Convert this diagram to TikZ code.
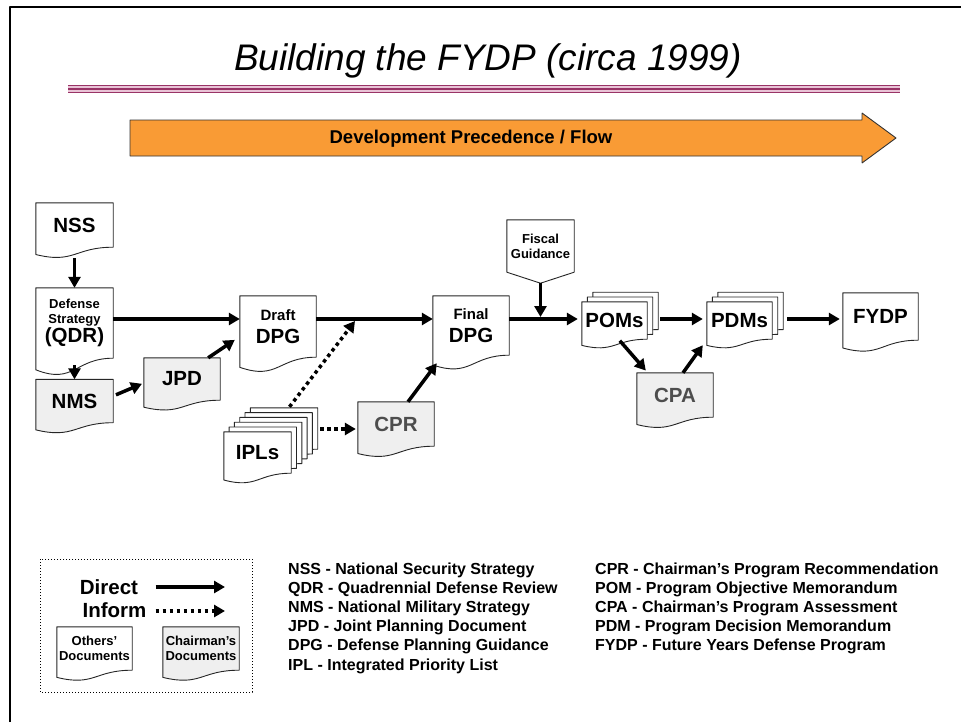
\documentclass[tikz,border=0pt]{standalone}
\usepackage{fontspec}
\setmainfont{Liberation Sans}
\usetikzlibrary{arrows.meta,calc}
\pgfdeclarelayer{background}
\pgfsetlayers{background,main}
\definecolor{flowfill}{HTML}{F99B35}
\definecolor{rulemag}{HTML}{993366}
\definecolor{rulepink}{HTML}{E9C3D6}
\definecolor{chairfill}{HTML}{EFEFEF}
\definecolor{chairtext}{HTML}{4D4D4D}
\newcommand{\doctext}{\fontsize{20.5}{23}\selectfont\bfseries}
\newcommand{\docmid}{\fontsize{15}{17}\selectfont\bfseries}
\newcommand{\docsmall}{\fontsize{13}{15}\selectfont\bfseries}
\newcommand{\legtext}{\fontsize{16}{18}\selectfont\bfseries}
\tikzset{
  doc/.style={rectangle,inner sep=0pt,align=center,font=\doctext},
  chair/.style={doc,text=chairtext},
  docdx/.store in=\docdx, docdy/.store in=\docdy, docdx=0pt, docdy=0pt,
  docpath/.style={insert path={let \p1=($(#1.north west)+(\docdx,\docdy)$),\p2=($(#1.south east)+(\docdx,\docdy)$),\n1={\y1-\y2} in
    (\x1,\y1) -- (\x2,\y1) -- (\x2,\y2) .. controls ({(\x1+\x2)/2},\y2) and ({(\x1+\x2)/2},{\y2-0.38*\n1}) .. (\x1,{\y2-0.165*\n1}) -- cycle}},
  docline/.style={draw=black!85,line width=0.9pt,fill=white,line join=round},
  direct/.style={line width=3.5pt,-{Triangle[length=11pt,width=12pt]}},
  inform/.style={line width=3.5pt,dash pattern=on 3.5pt off 3.5pt,-{Triangle[length=11pt,width=12pt]}},
}
\begin{document}
\begin{tikzpicture}[x=1pt,y=-1pt,line join=bevel]
\useasboundingbox (0,0) rectangle (961,725);
%% frame, title, flow bar
\draw[line width=2pt] (10,722) -- (10,7) -- (961,7);
\node (title) at (488,61) {\fontsize{37}{40}\selectfont\itshape Building the FYDP (circa 1999)};
\fill[rulepink] (68,85) rectangle (900,93);
\foreach \y in {85.6,89,92.4}
  \draw[rulemag,line width=1.2pt] (68,\y) -- (900,\y);
\draw[fill=flowfill,draw=black!80,line width=0.9pt] (130,120) -- (862,120) -- (862,113) -- (896,138) -- (862,163) -- (862,156) -- (130,156) -- cycle;
\node (flowtext) at (471,139) {\fontsize{18.5}{20}\selectfont\bfseries Development Precedence / Flow};
%% documents
\node (nss) at (74.5,225) [doc,minimum width=77pt,minimum height=44pt] {NSS};
\node (qdr) at (74.5,323) [doc,font=\docsmall,minimum width=77pt,minimum height=70pt] {Defense\\Strategy\\[1pt]{\doctext (QDR)}};
\node (nms) at (74.5,401) [chair,text=black,minimum width=77pt,minimum height=43pt] {NMS};
\node (jpd) at (182,379) [doc,minimum width=76pt,minimum height=42pt] {JPD};
\node (draftdpg) at (278,326.5) [doc,minimum width=76pt,minimum height=61pt] {{\docmid Draft}\\DPG};
\node (finaldpg) at (471,325.5) [doc,minimum width=76pt,minimum height=59pt] {{\docmid Final}\\DPG};
\node (fiscal) at (540.5,246) [doc,font=\docsmall,minimum width=67pt,minimum height=52pt] {Fiscal\\Guidance};
\node (cpr) at (396,424) [chair,minimum width=76pt,minimum height=44pt] {CPR};
\node (ipls) at (257.5,452.5) [doc,minimum width=67pt,minimum height=41pt] {IPLs};
\node (poms) at (614.5,320.5) [doc,minimum width=65pt,minimum height=37pt] {POMs};
\node (pdms) at (739.5,320.5) [doc,minimum width=65pt,minimum height=37pt] {PDMs};
\node (fydp) at (880.5,316.5) [doc,minimum width=75pt,minimum height=47pt] {FYDP};
\node (cpa) at (675,395) [chair,minimum width=76pt,minimum height=44pt] {CPA};
%
\begin{pgfonlayer}{background}
\foreach \d in {nss,qdr,draftdpg,finaldpg,fydp}
  \draw[docline,docpath=\d];
\foreach \d in {nms,jpd,cpr,cpa}
  \draw[docline,fill=chairfill,docpath=\d];
\foreach \k in {5,...,1}
  \draw[docline,docdx={5.3pt*\k},docdy={4.8pt*\k},docpath=ipls];
\draw[docline,docpath=ipls];
\foreach \d in {poms,pdms}{
  \foreach \k in {2,1}
    \draw[docline,docdx={5.5pt*\k},docdy={4.8pt*\k},docpath=\d];
  \draw[docline,docpath=\d];
}
\draw[docline] (fiscal.north west) -- (fiscal.north east) -- (fiscal.south east) -- ([yshift=-11pt]fiscal.south) -- (fiscal.south west) -- cycle;
\end{pgfonlayer}
%% connectors
\coordinate (flow) at (0,319);
\coordinate (iplhit) at (355,321);
\coordinate (cprin) at ([yshift=-5pt]cpr.west);
\draw[direct,shorten <=11pt] (nss) -- (qdr);
\draw[direct,shorten <=7pt] (qdr) -- (nms);
\draw[direct] (qdr.east |- flow) -- (draftdpg.west |- flow);
\draw[direct,shorten <=3pt,shorten >=2pt] ([yshift=5pt]nms.east) -- ([yshift=-4pt]jpd.west);
\draw[direct,shorten >=6pt] ([xshift=-12pt]jpd.north east) -- ([yshift=-10pt]draftdpg.west);
\draw[direct] (draftdpg.east |- flow) -- (finaldpg.west |- flow);
\draw[inform] ([xshift=32pt,yshift=25pt]ipls.north) -- (iplhit);
\draw[inform,shorten <=29pt,shorten >=2pt] (cprin -| ipls.east) -- (cprin);
\draw[direct] ([xshift=12pt]cpr.north) -- ([xshift=4pt,yshift=-8pt]finaldpg.south west);
\draw[direct,shorten >=4pt] (finaldpg.east |- flow) -- (poms.west |- flow);
\draw[direct,shorten <=11pt,shorten >=2pt] (fiscal.south) -- (fiscal.south |- flow);
\draw[direct,shorten <=13pt,shorten >=4pt] (poms.east |- flow) -- (pdms.west |- flow);
\draw[direct,shorten <=15pt,shorten >=3pt] (pdms.east |- flow) -- (fydp.west |- flow);
\draw[direct,shorten <=2pt,shorten >=3pt] ([xshift=4pt]poms.south) -- ([xshift=11pt]cpa.north west);
\draw[direct] ([xshift=8pt]cpa.north) -- ([xshift=-4pt,yshift=-6pt]pdms.south west);
%% legend
\draw[dotted,line width=1pt] (40,559) rectangle (252,692);
\node (direct) at (109,587) {\doctext Direct};
\node (inform) at (114.5,610) {\doctext Inform};
\coordinate (directend) at (225,587);
\coordinate (informend) at (225,611);
\draw[direct,shorten <=14pt] (direct.east) -- (directend);
\draw[inform,shorten <=14pt] (direct.east |- informend) -- (informend);
\node (others) at (94.5,648.5) [doc,font=\docsmall,minimum width=75pt,minimum height=43pt] {Others’\\Documents};
\node (chairman) at (201,648.5) [doc,font=\docsmall,minimum width=76pt,minimum height=43pt] {Chairman’s\\Documents};
\begin{pgfonlayer}{background}
\draw[docline,docpath=others];
\draw[docline,fill=chairfill,docpath=chairman];
\end{pgfonlayer}
\foreach \t [count=\i] in {NSS - National Security Strategy,QDR - Quadrennial Defense Review,NMS - National Military Strategy,JPD - Joint Planning Document,DPG - Defense Planning Guidance,IPL - Integrated Priority List}
  \node (abbrl\i) at (288,574+19.2*\i-19.2) [anchor=base west,font=\legtext,inner sep=0pt] {\t};
\foreach \t [count=\i] in {CPR - Chairman’s Program Recommendation,POM - Program Objective Memorandum,CPA - Chairman’s Program Assessment,PDM - Program Decision Memorandum,FYDP - Future Years Defense Program}
  \node (abbrr\i) at (595,574+19.2*\i-19.2) [anchor=base west,font=\legtext,inner sep=0pt] {\t};
%
\end{tikzpicture}
\end{document}
